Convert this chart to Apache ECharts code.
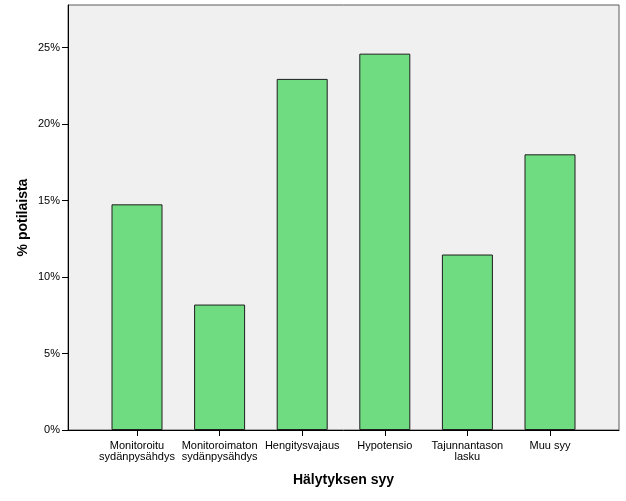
<!DOCTYPE html>
<html>
<head>
<meta charset="utf-8">
<script src="https://cdn.jsdelivr.net/npm/echarts@6/dist/echarts.min.js"></script>
<style>html,body{margin:0;padding:0;background:#fff}#c{width:626px;height:501px}</style>
</head>
<body>
<div id="c"></div>
<script>
const categories = ['Monitoroitu\nsydänpysähdys', 'Monitoroimaton\nsydänpysähdys', 'Hengitysvajaus', 'Hypotensio', 'Tajunnantason\nlasku', 'Muu syy'];
const values = [14.75, 8.2, 22.95, 24.6, 11.47, 18.02];
const yTicks = [0, 5, 10, 15, 20, 25];
const yTitle = '% potilaista';
const xTitle = 'Hälytyksen syy';

const font = 'Liberation Sans, Arial, sans-serif';
const chart = echarts.init(document.getElementById('c'), null, {renderer: 'canvas'});
chart.setOption({
  animation: false,
  backgroundColor: '#ffffff',
  grid: [
    {left: 68, right: 7, top: 5, bottom: 71, show: true, backgroundColor: '#f0f0f0', borderColor: '#5a5a5a', borderWidth: 1},
    {left: 95.7, right: 34.7, top: 5, bottom: 71}
  ],
  xAxis: [
    {gridIndex: 0, type: 'value', min: 0, max: 1, show: true,
      axisLine: {show: true, onZero: false, lineStyle: {color: '#000', width: 1}},
      axisTick: {show: false}, axisLabel: {show: false}, splitLine: {show: false},
      name: xTitle, nameLocation: 'middle', nameGap: 43,
      nameTextStyle: {fontFamily: font, fontSize: 14, fontWeight: 'bold', color: '#000'}},
    {gridIndex: 1, type: 'category', data: categories,
      axisLine: {show: false},
      axisTick: {show: true, alignWithLabel: true, length: 6, lineStyle: {color: '#000'}},
      axisLabel: {fontFamily: font, fontSize: 11, color: '#000', margin: 10, lineHeight: 11, interval: 0}}
  ],
  yAxis: [
    {gridIndex: 0, type: 'value', min: 0, max: 27.78, interval: 5,
      axisLine: {show: true, lineStyle: {color: '#000', width: 1}},
      axisTick: {show: true, length: 6, lineStyle: {color: '#000'}, customValues: yTicks},
      axisLabel: {fontFamily: font, fontSize: 11, color: '#000', margin: 8, customValues: yTicks,
        formatter: v => v + '%'},
      splitLine: {show: false},
      name: yTitle, nameLocation: 'middle', nameGap: 38, nameMoveOverlap: false,
      nameTextStyle: {fontFamily: font, fontSize: 14, fontWeight: 'bold', color: '#000'}},
    {gridIndex: 1, type: 'value', min: 0, max: 27.78, show: false}
  ],
  series: [{
    type: 'bar', xAxisIndex: 1, yAxisIndex: 1, data: values, barWidth: 51,
    itemStyle: {color: '#70dc82', borderColor: '#1e1e1e', borderWidth: 1}
  }]
});
</script>
</body>
</html>
